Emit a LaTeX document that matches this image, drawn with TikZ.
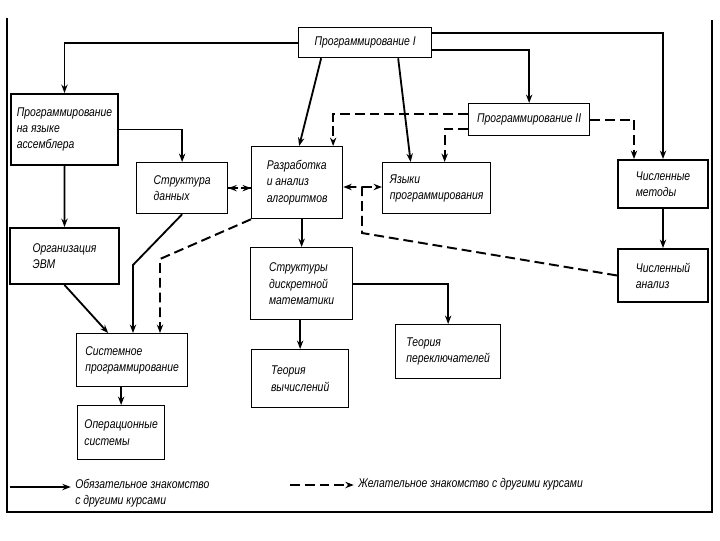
\documentclass[tikz,border=0pt]{standalone}
\usepackage{fontspec}
\newfontfamily\coursefont[FakeStretch=0.82]{Liberation Sans}
\usetikzlibrary{arrows.meta,calc}

\tikzset{
  course/.style={draw, line width=0.9pt, anchor=north west, align=left, inner sep=0pt,
    font=\coursefont\itshape\fontsize{9}{11.5}\selectfont},
  thick course/.style={course, line width=1.4pt},
  legend/.style={anchor=north west, align=left, inner sep=0pt,
    font=\coursefont\itshape\fontsize{9}{11.5}\selectfont},
  must/.style={line width=1.3pt, -{Stealth[length=6pt,width=4.5pt]}},
  may/.style={line width=1.4pt, dash pattern=on 7pt off 3.5pt, -{Stealth[length=6pt,width=4.5pt]}},
}

\begin{document}
\begin{tikzpicture}[x=0.025cm, y=-0.025cm]
\useasboundingbox (0,0) rectangle (720,540);

% frame
\draw[line width=1.2pt] (7,18) -- (7,512) -- (712,512) -- (712,20);

% courses
\node[course, minimum width=3.325cm, minimum height=0.75cm] (P1) at (298,27) {Программирование I};
\node[thick course, minimum width=2.675cm, minimum height=1.775cm] (ASM) at (10,93) {Программирование\\на языке\\ассемблера};
\node[course, minimum width=3.025cm, minimum height=0.8cm] (P2) at (468,103) {Программирование II};
\node[course, minimum width=2.275cm, minimum height=1.8cm] (RA) at (251,146) {Разработка\\и анализ\\алгоритмов};
\node[course, minimum width=2.275cm, minimum height=1.275cm] (SD) at (136,162) {Структура\\данных};
\node[course, minimum width=2.7cm, minimum height=1.275cm] (YP) at (382,162) {Языки\\программирования};
\node[thick course, minimum width=2.25cm, minimum height=1.2cm] (CM) at (617,159) {Численные\\методы};
\node[thick course, minimum width=2.725cm, minimum height=1.4cm] (OE) at (9,227) {Организация\\ЭВМ};
\node[course, minimum width=2.55cm, minimum height=1.8cm] (DM) at (250,247) {Структуры\\дискретной\\математики};
\node[thick course, minimum width=2.25cm, minimum height=1.325cm] (CA) at (617,248) {Численный\\анализ};
\node[course, minimum width=2.625cm, minimum height=1.35cm] (TP) at (395,324) {Теория\\переключателей};
\node[course, minimum width=2.775cm, minimum height=1.325cm] (SP) at (76,333) {Системное\\программирование};
\node[course, minimum width=2.425cm, minimum height=1.45cm] (TV) at (251,349) {Теория\\вычислений};
\node[course, minimum width=2.175cm, minimum height=1.35cm] (OS) at (77,405) {Операционные\\системы};

% required
\draw[must] (P1.west) -| (ASM.north);
\draw[must] ($(P1.south)+(-44,0)$) -- ($(RA.north)+(2,0)$);
\draw[must] ($(P1.south)+(33,0)$) -- ($(YP.north)+(-26,0)$);
\draw[must] ($(P1.east)+(0,7)$) -| (P2.north);
\draw[must] ($(P1.east)+(0,-10)$) -| (CM.north);
\draw[must] (ASM.east) -| (SD.north);
\draw[must] (ASM.south) -- (OE.north);
\draw[must] (DM.north |- RA.south) -- (DM.north);
\draw[must] (DM.east) -| (TP.north);
\draw[must] (TV.north |- DM.south) -- (TV.north);
\draw[must] (CM.south) -- (CA.north);
\draw[must] (OE.south) -- ($(SP.north)+(-24,0)$);
\coordinate (sdbend) at (133,265);
\draw[must] (SD.south) -- (sdbend) -- (sdbend |- SP.north);
\draw[must] (OS.north |- SP.south) -- (OS.north);

% desirable
\draw[may] ($(P2.west)+(0,-6)$) -| ($(RA.north)+(36,0)$);
\draw[may] ($(P2.west)+(0,9)$) -| ($(YP.north)+(8,0)$);
\draw[may] (P2.east) -| ($(CM.north)+(-29,0)$);
\draw[may] (SD.east) -- (SD.east -| RA.west);
\draw[may] (RA.west |- SD.east) -- (SD.east);
\coordinate (jn) at (362,187);
\coordinate (kn) at (362,233);
\draw[may] (CA.west) -- (kn) -- (jn) -- (jn -| RA.east);
\draw[may] (jn) -- (jn -| YP.west);
\coordinate (rabend) at (160,259);
\draw[may] (RA.south west) -- (rabend) -- (rabend |- SP.north);

% legend
\node[legend] (LM) at (75,479) {Обязательное знакомство\\с другими курсами};
\node[legend] (LW) at (358,478) {Желательное знакомство с другими курсами};
\coordinate (lm) at (10,487);
\coordinate (lw) at (290,485);
\draw[must, line width=2pt, shorten >=3pt] (lm) -- (lm -| LM.west);
\draw[may, shorten >=3pt] (lw) -- (lw -| LW.west);
\end{tikzpicture}
\end{document}
